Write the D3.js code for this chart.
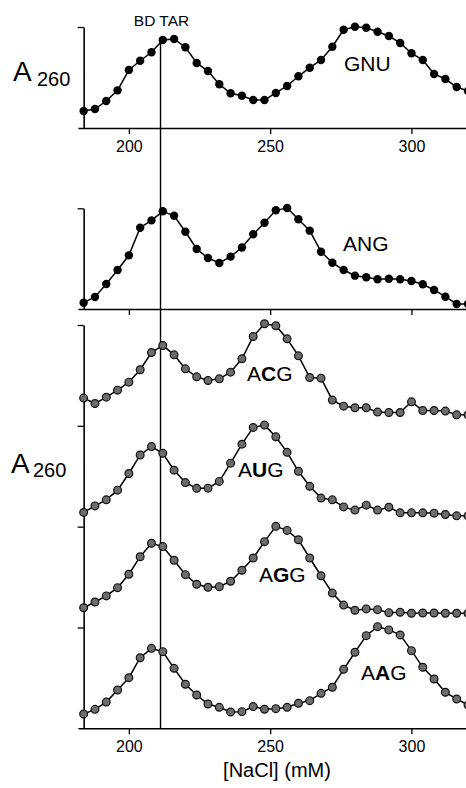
<!DOCTYPE html>
<html>
<head>
<meta charset="utf-8">
<script src="https://cdn.jsdelivr.net/npm/d3@7"></script>
<style>
  html, body { margin: 0; padding: 0; background: #fff; }
  svg { display: block; }
  text { font-family: "Liberation Sans", Arial, Helvetica, sans-serif; fill: #000; }
</style>
</head>
<body>
<svg id="chart" width="466" height="788"></svg>
<script>
// ---------- data ----------
const saltMM = [184,188,192,196,200,204,208,212,216,220,224,228,232,236,240,244,248,252,256,260,264,268,272,276,280,284,288,292,296,300,304,308,312,316,320];

const gnu = [.168,.188,.267,.373,.574,.666,.75,.871,.881,.799,.644,.564,.433,.344,.32,.277,.277,.347,.416,.512,.597,.673,.805,.973,1.003,.993,.953,.911,.842,.74,.673,.535,.485,.406,.366];
const ang = [.063,.119,.248,.387,.533,.807,.88,.97,.926,.767,.596,.506,.457,.52,.61,.742,.857,.98,1.003,.891,.778,.569,.46,.387,.331,.315,.295,.301,.295,.278,.246,.189,.122,.05,.05];

const acg = [.275,.221,.284,.354,.433,.556,.727,.797,.704,.565,.486,.449,.466,.532,.665,.886,1.012,.992,.863,.694,.479,.473,.255,.195,.179,.179,.136,.132,.132,.238,.152,.152,.146,.109,.109];
const aug = [.141,.206,.266,.362,.527,.711,.794,.728,.56,.437,.38,.382,.449,.63,.818,.984,1.007,.891,.737,.549,.4,.283,.266,.196,.164,.213,.164,.193,.137,.137,.137,.134,.121,.107,.107];
const agg = [.196,.253,.313,.395,.528,.702,.835,.802,.667,.524,.429,.399,.405,.458,.568,.689,.851,1.003,.963,.87,.689,.513,.341,.222,.171,.184,.177,.147,.151,.141,.144,.144,.141,.141,.141];
const aag = [.142,.188,.26,.38,.502,.70,.793,.76,.595,.437,.33,.241,.208,.162,.165,.215,.189,.195,.208,.248,.274,.347,.407,.585,.754,.919,1.008,.976,.926,.77,.605,.489,.357,.291,.231];

const stackedNames = ["ACG","AUG","AGG","AAG"];
const stackedOffsets = [3, 2, 1, 0];
const xTicks = [200, 250, 300];
const bdTar = 211.2;

// ---------- layout ----------
const svg = d3.select("#chart");
const x = d3.scaleLinear().domain([182, 319.3]).range([78, 466]);
const yTop = d3.scaleLinear().domain([0, 1]).range([128, 27]);
const yMid = d3.scaleLinear().domain([0, 1]).range([309, 208.3]);
const yBot = d3.scaleLinear().domain([0, 4]).range([728.3, 325]);
const yAxisX = x(184);

function xAxis(yPos, labels) {
  const g = svg.append("g").attr("transform", `translate(0,${yPos})`)
    .call(d3.axisBottom(x).tickValues(xTicks).tickSize(6).tickSizeOuter(0)
      .tickFormat(labels ? d3.format("d") : () => ""));
  g.select(".domain").attr("stroke", "#000").attr("stroke-width", 1.6);
  g.selectAll(".tick line").attr("stroke", "#000").attr("stroke-width", 1.3);
  g.selectAll(".tick text").attr("font-size", 16).attr("dy", "0.95em")
    .style("font-family", '"Liberation Sans", Arial, sans-serif');
}
function yAxis(scale, ticks) {
  const g = svg.append("g").attr("transform", `translate(${yAxisX},0)`)
    .call(d3.axisLeft(scale).tickValues(ticks).tickSize(6).tickSizeOuter(0).tickFormat(() => ""));
  g.select(".domain").attr("stroke", "#000").attr("stroke-width", 1.6);
  g.selectAll(".tick line").attr("stroke", "#000").attr("stroke-width", 1.3);
}

xAxis(yTop(0), true);
yAxis(yTop, [1]);
xAxis(yMid(0), false);
yAxis(yMid, [1]);
xAxis(yBot(0), true);
yAxis(yBot, [1, 2, 3, 4]);

// BD TAR reference line
svg.append("line")
  .attr("x1", x(bdTar)).attr("x2", x(bdTar))
  .attr("y1", 37).attr("y2", yBot(0))
  .attr("stroke", "#000").attr("stroke-width", 1.4);
svg.append("text").attr("x", x(bdTar) + 1).attr("y", 26)
  .attr("text-anchor", "middle").attr("font-size", 15.5).text("BD TAR");

function drawSeries(values, yScale, offset, filled) {
  const pts = saltMM.map((s, i) => [x(s), yScale(values[i] + offset)]);
  svg.append("path").attr("d", d3.line()(pts))
    .attr("fill", "none").attr("stroke", "#000").attr("stroke-width", 1.5);
  svg.append("g").selectAll("circle").data(pts).join("circle")
    .attr("cx", d => d[0]).attr("cy", d => d[1])
    .attr("r", filled ? 4.2 : 3.9)
    .attr("fill", filled ? "#000" : "#6c6c6c")
    .attr("stroke", filled ? "none" : "#111")
    .attr("stroke-width", 1.2);
}

drawSeries(gnu, yTop, 0, true);
drawSeries(ang, yMid, 0, true);
[acg, aug, agg, aag].forEach((vals, i) => drawSeries(vals, yBot, stackedOffsets[i], false));

// series labels
function label(xp, yp, parts) {
  const t = svg.append("text").attr("x", xp).attr("y", yp).attr("font-size", 21);
  parts.forEach(p => t.append("tspan").attr("font-weight", p[1] ? "bold" : "normal").text(p[0]));
}
label(344, 71, [["GNU", false]]);
label(343, 251, [["ANG", false]]);
label(247, 381, [["A", false], [stackedNames[0][1], true], ["G", false]]);
label(238, 477, [["A", false], [stackedNames[1][1], true], ["G", false]]);
label(259, 582, [["A", false], [stackedNames[2][1], true], ["G", false]]);
label(361, 680, [["A", false], [stackedNames[3][1], true], ["G", false]]);

// y-axis titles
function aTitle(xp, yp, dx, dy) {
  svg.append("text").attr("x", xp).attr("y", yp).attr("font-size", 28).text("A");
  svg.append("text").attr("x", xp + dx).attr("y", yp + dy).attr("font-size", 20).text("260");
}
aTitle(13, 81, 24, 5);
aTitle(11, 473, 22, 4);

// x-axis title
svg.append("text").attr("x", 277).attr("y", 777).attr("text-anchor", "middle")
  .attr("font-size", 20).text("[NaCl] (mM)");
</script>
</body>
</html>
